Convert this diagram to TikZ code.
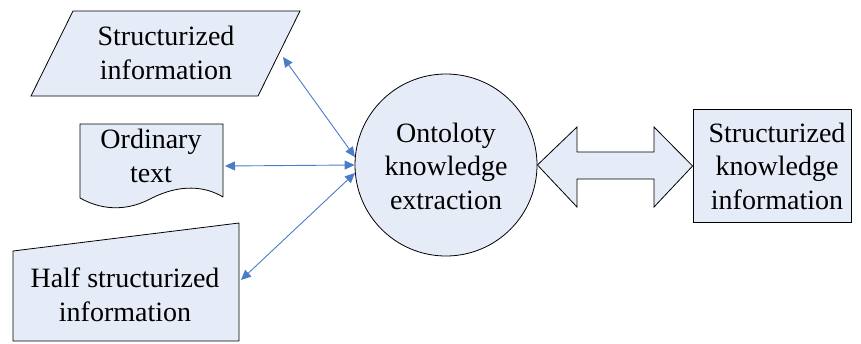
\documentclass[tikz,border=0pt]{standalone}
\usepackage{fontspec}
\setmainfont{Liberation Serif}
\usetikzlibrary{arrows.meta}
\definecolor{fillb}{HTML}{E6ECF7}
\definecolor{lineb}{HTML}{4A7CC9}
\begin{document}
\begin{tikzpicture}[x=1pt,y=-1pt,
  shp/.style={draw=black, fill=fillb, line width=0.8pt},
  lbl/.style={align=center, font=\fontsize{28}{33.5}\selectfont, inner sep=0pt},
  conn/.style={draw=lineb, line width=0.9pt, {Triangle[length=10pt,width=9pt]}-{Triangle[length=10pt,width=9pt]}}]
\useasboundingbox (0,0) rectangle (861,343);
% Structurized information (parallelogram)
\draw[shp] (73,11) -- (300,11) -- (258,96) -- (31,96) -- cycle;
\node[lbl] (si) at (166,53) {Structurized\\information};
\coordinate (siE) at (283,57);
% Ordinary text (document)
\draw[shp] (223,197) -- (223,124) -- (80,124) -- (80,198)
  .. controls (105,212) and (130,210) .. (152,198)
  .. controls (180,184) and (205,186) .. (223,197);
\node[lbl] (ot) at (151,156) {Ordinary\\text};
\coordinate (otE) at (225,166);
% Half structurized information (manual input)
\draw[shp] (13,251) -- (239,223) -- (239,341) -- (13,341) -- cycle;
\node[lbl] (hs) at (125,295) {Half structurized\\information};
\coordinate (hsE) at (241,280);
% Ontology circle
\node[shp, circle, minimum size=182pt, inner sep=0pt] (ok) at (446,165) {};
\node[lbl] (okt) at (446,166) {Ontoloty\\knowledge\\extraction};
% Right box
\node[shp, minimum width=158pt, minimum height=113pt, inner sep=0pt] (sk) at (772,166) {};
\node[lbl] (skt) at (777,166) {Structurized\\knowledge\\information};
% Double arrow
\draw[shp] (ok.east) -- (577,127) -- (577,152) -- (654,152) -- (654,127) -- (sk.west)
  -- (654,207) -- (654,179) -- (577,179) -- (577,207) -- cycle;
% Connectors
\draw[conn] (siE) -- (ok.175);
\draw[conn] (otE) -- (ok.180);
\draw[conn] (hsE) -- (ok.185);
\end{tikzpicture}
\end{document}
